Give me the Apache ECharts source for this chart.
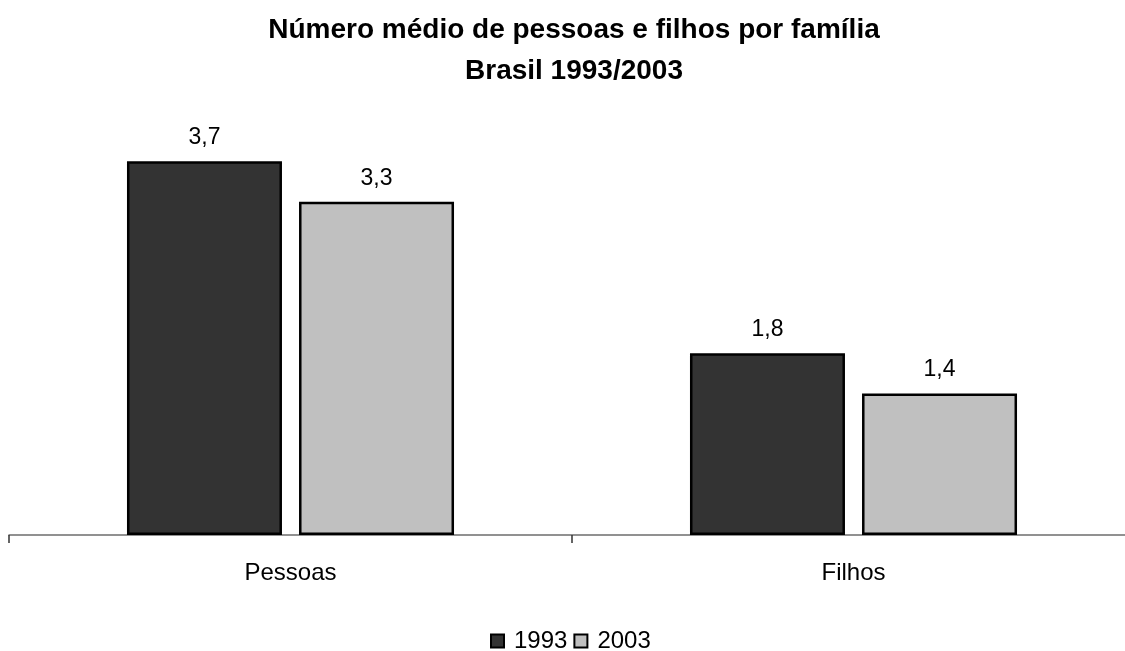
<!DOCTYPE html>
<html>
<head>
<meta charset="utf-8">
<script src="https://cdn.jsdelivr.net/npm/echarts@6/dist/echarts.min.js"></script>
<style>
  html, body { margin: 0; padding: 0; background: #ffffff; }
  #chart { width: 1125px; height: 651px; }
</style>
</head>
<body>
<div id="chart"></div>
<script>
// Average household size and number of children, Brazil
const categories = ['Pessoas', 'Filhos'];
const seriesNames = ['1993', '2003'];
const values1993 = [3.7, 1.8];
const values2003 = [3.3, 1.4];

const FONT = '"Liberation Sans", Arial, sans-serif';
const fmt = v => String(v).replace('.', ',');

const chart = echarts.init(document.getElementById('chart'), null, { renderer: 'canvas' });

const barStyle = (fill) => ({
  color: fill,
  borderColor: '#000000',
  borderWidth: 2.5
});

const labelStyle = {
  show: true,
  position: 'top',
  distance: 12,
  fontFamily: FONT,
  fontSize: 23,
  color: '#000000',
  formatter: p => fmt(p.value)
};

chart.setOption({
  backgroundColor: '#ffffff',
  animation: false,
  title: {
    text: 'Número médio de pessoas e filhos por família\nBrasil 1993/2003',
    left: 569,
    top: 5,
    textAlign: 'center',
    textStyle: {
      fontFamily: FONT,
      fontWeight: 'bold',
      fontSize: 28,
      lineHeight: 41,
      color: '#000000'
    }
  },
  legend: {
    data: seriesNames,
    top: 624,
    left: 485,
    itemWidth: 13,
    itemHeight: 13,
    itemGap: 6,
    icon: 'rect',
    textStyle: { fontFamily: FONT, fontSize: 24, color: '#000000', padding: [0, 0, 0, 5] }
  },
  grid: {
    left: 9,
    width: 1126,
    top: 131,
    bottom: 116,
    containLabel: false,
    outerBoundsMode: 'none'
  },
  xAxis: {
    type: 'category',
    data: categories,
    axisLine: { show: true, lineStyle: { color: '#6e6e6e', width: 1.5 } },
    axisTick: { show: true, length: 8, lineStyle: { color: '#333333', width: 1.5 } },
    axisLabel: { fontFamily: FONT, fontSize: 24, color: '#000000', margin: 26 }
  },
  yAxis: {
    type: 'value',
    min: 0,
    max: 4,
    show: false,
    splitLine: { show: false }
  },
  series: [
    {
      name: seriesNames[0],
      type: 'bar',
      data: values1993,
      barWidth: 155,
      barGap: '11%',
      itemStyle: barStyle('#333333'),
      label: labelStyle
    },
    {
      name: seriesNames[1],
      type: 'bar',
      data: values2003,
      barWidth: 155,
      barGap: '11%',
      itemStyle: barStyle('#c0c0c0'),
      label: labelStyle
    }
  ]
});
</script>
</body>
</html>
